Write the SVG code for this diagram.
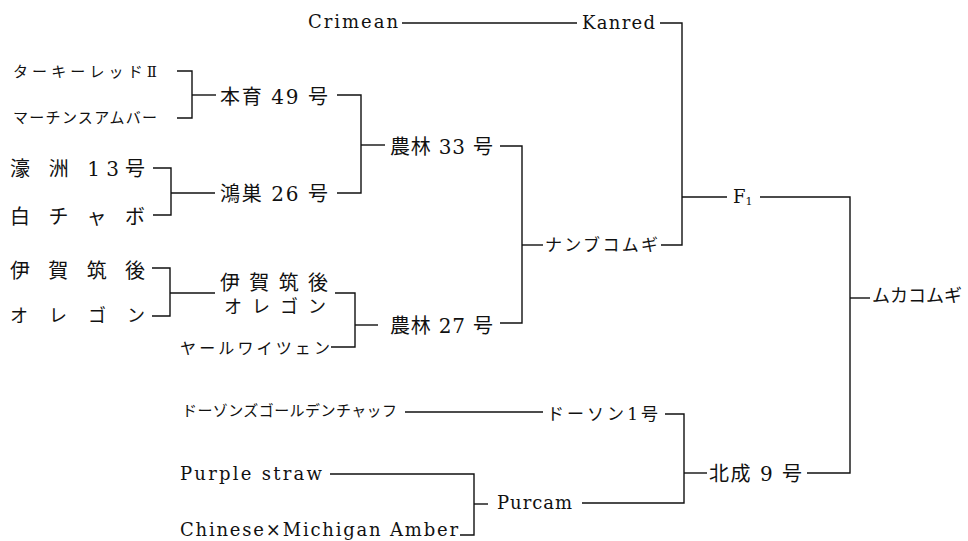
<svg xmlns="http://www.w3.org/2000/svg" width="968" height="541" viewBox="0 0 968 541">
<style>
  .lat { font-family: "DejaVu Serif", "Liberation Serif", "Noto Sans CJK JP", serif; fill: #111; }
  .jp { font-family: "DejaVu Serif", "Liberation Serif", "Noto Sans CJK JP", serif; fill: #111; }
  .c path { fill: none; stroke: #111; stroke-width: 1.4; }
</style>
<rect width="968" height="541" fill="#fff"/>
<g id="connectors" class="c">
  <path d="M402 23 H577"/>
  <path d="M660 23 H682 V245 H661"/>
  <path d="M682 197 H727"/>
  <path d="M760 197 H850 V473 H807"/>
  <path d="M850 298 H870"/>
  <path d="M177 71 H192 V118 H177"/>
  <path d="M192 95 H216"/>
  <path d="M153 168 H171 V215 H153"/>
  <path d="M171 193 H215"/>
  <path d="M337 95 H361 V193 H337"/>
  <path d="M361 145 H385"/>
  <path d="M152 268 H170 V316 H152"/>
  <path d="M170 293 H215"/>
  <path d="M335 293 H355 V347 H331"/>
  <path d="M355 325 H378"/>
  <path d="M500 146 H522 V323 H500"/>
  <path d="M522 245 H543"/>
  <path d="M405 412 H543"/>
  <path d="M665 414 H684 V503 H582"/>
  <path d="M684 473 H707"/>
  <path d="M330 474 H474 V535 H460"/>
  <path d="M474 504 H488"/>
</g>
<g id="crimean"><text class="lat" x="308" y="28" font-size="18" textLength="90">Crimean</text></g>
<g id="kanred"><text class="lat" x="582" y="29" font-size="18" textLength="73">Kanred</text></g>
<g id="f1"><text class="lat" x="733" y="203" font-size="18">F<tspan font-size="11" dy="2">1</tspan></text></g>
<g id="mukakomugi"><text class="jp" x="872" y="302" font-size="18" textLength="90">ムカコムギ</text></g>
<g id="turkey-red"><text class="jp" x="13" y="77" font-size="15" textLength="144">ターキーレッドⅡ</text></g>
<g id="martin-amber"><text class="jp" x="13" y="123" font-size="15" textLength="144">マーチンスアムバー</text></g>
<g id="hon-iku-49"><text class="jp" x="220" y="104" font-size="20" textLength="108">本育 49 号</text></g>
<g id="gousyu-13"><text class="jp" x="10" y="176" font-size="20" textLength="135">濠 洲 13号</text></g>
<g id="shirochabo"><text class="jp" x="10" y="224" font-size="20" textLength="135">白チャボ</text></g>
<g id="kounosu-26"><text class="jp" x="220" y="201" font-size="20" textLength="108">鴻巣 26 号</text></g>
<g id="norin-33"><text class="jp" x="390" y="154" font-size="20" textLength="103">農林 33 号</text></g>
<g id="igachikugo"><text class="jp" x="10" y="278" font-size="20" textLength="135">伊賀筑後</text></g>
<g id="oregon"><text class="jp" x="10" y="322" font-size="18" textLength="135">オレゴン</text></g>
<g id="igachikugo-oregon">
  <text class="jp" x="220" y="290" font-size="20" textLength="108">伊賀筑後</text>
  <text class="jp" x="224" y="313" font-size="18" textLength="102">オレゴン</text>
</g>
<g id="jarl-weizen"><text class="jp" x="180" y="354" font-size="16" textLength="150">ヤールワイツェン</text></g>
<g id="norin-27"><text class="jp" x="390" y="333" font-size="20" textLength="103">農林 27 号</text></g>
<g id="nanbukomugi"><text class="jp" x="545" y="251" font-size="17" textLength="113">ナンブコムギ</text></g>
<g id="dawsons-golden-chaff"><text class="jp" x="182" y="416" font-size="15" textLength="215">ドーゾンズゴールデンチャッフ</text></g>
<g id="dawson-1"><text class="jp" x="547" y="420" font-size="17" textLength="111">ドーソン1号</text></g>
<g id="hokusei-9"><text class="jp" x="709" y="481" font-size="20" textLength="93">北成 9 号</text></g>
<g id="purple-straw"><text class="lat" x="180" y="480" font-size="18" textLength="142">Purple straw</text></g>
<g id="chinese-michigan-amber"><text class="lat" x="180" y="536" font-size="18" textLength="278">Chinese×Michigan Amber</text></g>
<g id="purcam"><text class="lat" x="497" y="509" font-size="18" textLength="75">Purcam</text></g>
</svg>
